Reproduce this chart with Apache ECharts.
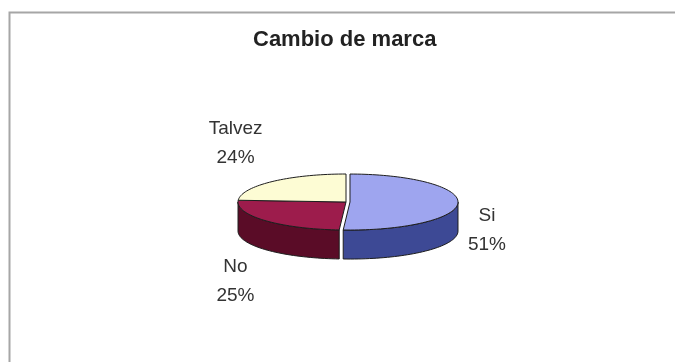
<!DOCTYPE html>
<html>
<head>
<meta charset="utf-8">
<script src="https://cdn.jsdelivr.net/npm/echarts@6/dist/echarts.min.js"></script>
<style>
  html, body { margin: 0; padding: 0; background: #ffffff; }
  #chart { width: 675px; height: 362px; }
</style>
</head>
<body>
<div id="chart"></div>
<script>
// Survey answers: brand change intention
const categories = ['Si', 'No', 'Talvez'];
const shares = [51, 25, 24];

// Palette: top faces and side walls of each slice
const topColors = ['#9ea5ef', '#9d1c4c', '#fdfcd4'];
const sideColors = ['#3d4995', '#5a0c27', '#b9b58c'];

// Tilted pie geometry (screen pixels)
const CX = 346, CY = 202, RX = 108, RY = 28, DEPTH = 29;
const EXPLODE = [4, 0, 0];
const LABEL_FONT = '19px "Liberation Sans", Arial, sans-serif';

const total = shares.reduce((a, b) => a + b, 0);
const startAngles = [];
shares.reduce((acc, v, i) => { startAngles[i] = acc; return acc + v; }, 0);

const measureCtx = document.createElement('canvas').getContext('2d');
measureCtx.font = LABEL_FONT;

function ellipsePoint(th, ox, oy, dy) {
  return [ox + CX + RX * Math.sin(th), oy + CY - RY * Math.cos(th) + (dy || 0)];
}

function arcPoints(a, b, ox, oy, dy) {
  const pts = [];
  const steps = Math.max(2, Math.ceil((b - a) / (Math.PI / 90)));
  for (let k = 0; k <= steps; k++) {
    pts.push(ellipsePoint(a + (b - a) * k / steps, ox, oy, dy));
  }
  return pts;
}

function renderSlice(params, api) {
  const i = params.dataIndex;
  const value = api.value(0);
  const a = startAngles[i] / total * Math.PI * 2;
  const b = a + value / total * Math.PI * 2;
  const mid = (a + b) / 2;
  const ox = EXPLODE[i] * Math.sin(mid);
  const oy = -EXPLODE[i] * Math.cos(mid) * RY / RX;
  const children = [];

  // Outer wall: only the part facing the viewer (between 3 and 9 o'clock)
  const wa = Math.max(a, Math.PI / 2), wb = Math.min(b, Math.PI * 1.5);
  if (wb > wa) {
    const upper = arcPoints(wa, wb, ox, oy, 0);
    const lower = arcPoints(wa, wb, ox, oy, DEPTH).reverse();
    children.push({
      type: 'polygon',
      shape: { points: upper.concat(lower) },
      style: { fill: sideColors[i], stroke: '#1e1e1e', lineWidth: 1 }
    });
  }

  // Top face
  const face = [[CX + ox, CY + oy]].concat(arcPoints(a, b, ox, oy, 0));
  children.push({
    type: 'polygon',
    shape: { points: face },
    style: { fill: topColors[i], stroke: '#1e1e1e', lineWidth: 1 }
  });

  // Category label with percentage, placed outside the slice
  const text = categories[i] + '\n' + Math.round(value / total * 100) + '%';
  const w = Math.max.apply(null, text.split('\n').map(s => measureCtx.measureText(s).width));
  const s = Math.sin(mid), c = Math.cos(mid);
  const edgeX = CX + s * 122;
  const lx = s >= 0 ? edgeX + w / 2 : edgeX - w / 2;
  const ly = CY - c * 81 + (c < 0 ? DEPTH * 0.9 : 0);
  children.push({
    type: 'text',
    x: lx,
    y: ly,
    style: {
      text: text,
      font: LABEL_FONT,
      fill: '#333333',
      align: 'center',
      verticalAlign: 'middle',
      lineHeight: 29
    }
  });

  return { type: 'group', children: children };
}

const chart = echarts.init(document.getElementById('chart'), null, { renderer: 'canvas' });
chart.setOption({
  backgroundColor: '#ffffff',
  animation: false,
  title: {
    text: 'Cambio de marca',
    left: 253,
    top: 29,
    padding: 0,
    textStyle: {
      fontFamily: '"Liberation Sans", Arial, sans-serif',
      fontSize: 22,
      fontWeight: 'bold',
      color: '#222222'
    }
  },
  graphic: [
    {
      type: 'polyline',
      shape: { points: [[9.5, 362], [9.5, 12.5], [675, 12.5]] },
      style: { stroke: '#a6a6a6', lineWidth: 2, fill: null },
      silent: true
    }
  ],
  series: [{
    type: 'custom',
    coordinateSystem: 'none',
    renderItem: renderSlice,
    data: shares.map(v => [v])
  }]
});
</script>
</body>
</html>
